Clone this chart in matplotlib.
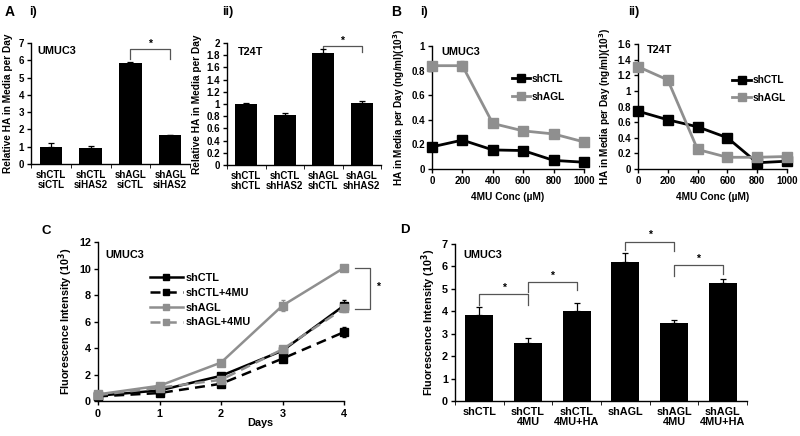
import numpy as np
import matplotlib
matplotlib.use("Agg")
import matplotlib.pyplot as plt
from matplotlib.ticker import FormatStrFormatter, MultipleLocator

plt.rcParams['font.family'] = ['Liberation Sans', 'DejaVu Sans']
plt.rcParams['font.weight'] = 'bold'
plt.rcParams['axes.labelweight'] = 'bold'
plt.rcParams['axes.linewidth'] = 1.0

GRAY = '#8f8f8f'

# ---- data ----
a1_labels = ['shCTL\nsiCTL', 'shCTL\nsiHAS2', 'shAGL\nsiCTL', 'shAGL\nsiHAS2']
a1_vals = [1.0, 0.93, 5.85, 1.65]
a1_err = [0.2, 0.12, 0.07, 0.04]

a2_labels = ['shCTL\nshCTL', 'shCTL\nshHAS2', 'shAGL\nshCTL', 'shAGL\nshHAS2']
a2_vals = [1.0, 0.82, 1.83, 1.02]
a2_err = [0.02, 0.03, 0.07, 0.03]

conc = [0, 200, 400, 600, 800, 1000]
b1_shctl = [0.18, 0.235, 0.155, 0.15, 0.07, 0.055]
b1_shagl = [0.84, 0.84, 0.37, 0.31, 0.285, 0.22]
b1_shctl_err = [0.01, 0.02, 0.01, 0.01, 0.01, 0.01]
b1_shagl_err = [0.02, 0.04, 0.02, 0.02, 0.01, 0.01]

b2_shctl = [0.74, 0.63, 0.54, 0.40, 0.08, 0.10]
b2_shagl = [1.31, 1.14, 0.25, 0.15, 0.15, 0.16]
b2_shctl_err = [0.03, 0.02, 0.02, 0.02, 0.01, 0.01]
b2_shagl_err = [0.03, 0.03, 0.02, 0.04, 0.02, 0.02]

days = [0, 1, 2, 3, 4]
c_shctl = [0.4, 0.8, 1.9, 3.8, 7.2]
c_shctl_4mu = [0.35, 0.6, 1.3, 3.2, 5.2]
c_shagl = [0.5, 1.15, 2.9, 7.2, 10.05]
c_shagl_4mu = [0.45, 1.0, 1.6, 3.9, 7.0]
c_shctl_err = [0.05, 0.1, 0.15, 0.2, 0.4]
c_shctl_4mu_err = [0.05, 0.1, 0.1, 0.2, 0.4]
c_shagl_err = [0.05, 0.1, 0.15, 0.4, 0.1]
c_shagl_4mu_err = [0.05, 0.1, 0.2, 0.2, 0.3]

d_labels = ['shCTL', 'shCTL\n4MU', 'shCTL\n4MU+HA', 'shAGL', 'shAGL\n4MU', 'shAGL\n4MU+HA']
d_vals = [3.85, 2.6, 4.0, 6.2, 3.5, 5.27]
d_err = [0.35, 0.22, 0.38, 0.4, 0.12, 0.18]

W, H = 800, 436
fig = plt.figure(figsize=(W / 100, H / 100), dpi=100)


def ax_px(l, t, r, b):
    ax = fig.add_axes([l / W, 1 - b / H, (r - l) / W, (b - t) / H])
    ax.spines['top'].set_visible(False)
    ax.spines['right'].set_visible(False)
    ax.tick_params(direction='out', length=3, width=1.0, pad=2)
    return ax


def label_px(x, y, s, size=8.5):
    fig.text(x / W, 1 - y / H, s, fontsize=size, fontweight='bold', va='center', ha='left')


def bracket(ax, x1, x2, y_left, y_top, y_right, star_y, fs=7.5):
    ax.plot([x1, x1, x2, x2], [y_left, y_top, y_top, y_right], color='#555555', lw=0.9, clip_on=False)
    ax.text((x1 + x2) / 2, star_y, '*', ha='center', va='center', fontsize=fs, clip_on=False)


def bar_panel(ax, labels, vals, err, ymax, ystep, fs):
    n = len(vals)
    x = np.arange(n) + 0.5
    ax.bar(x, vals, width=0.57, color='black', zorder=2)
    ax.errorbar(x, vals, yerr=[np.zeros(n), err], fmt='none', ecolor='black',
                elinewidth=0.9, capsize=2.5, capthick=0.9, zorder=3)
    ax.set_xlim(0, n)
    ax.set_ylim(0, ymax)
    ax.yaxis.set_major_locator(MultipleLocator(ystep))
    ax.yaxis.set_major_formatter(FormatStrFormatter('%g'))
    ax.set_xticks(x)
    ax.set_xticklabels(labels, fontsize=fs, linespacing=1.05)
    ax.tick_params(axis='x', length=0, pad=4)
    ax.set_xticks(np.arange(n + 1), minor=True)
    ax.tick_params(axis='x', which='minor', length=3, direction='out')
    ax.tick_params(axis='y', labelsize=fs)


# ---- A i ----
ax = ax_px(31, 43, 190, 164)
bar_panel(ax, a1_labels, a1_vals, a1_err, 7, 1, 7)
ax.set_ylabel('Relative HA in Media per Day', fontsize=7.3, labelpad=4)
ax.text(0.04, 0.93, 'UMUC3', transform=ax.transAxes, fontsize=7.8, fontweight='bold', va='center')
bracket(ax, 2.5, 3.5, 6.1, 6.65, 6.05, 6.95)

# ---- A ii ----
ax = ax_px(227, 43, 381, 165)
bar_panel(ax, a2_labels, a2_vals, a2_err, 2, 0.2, 7)
ax.set_ylabel('Relative HA in Media per Day', fontsize=7.3, labelpad=3)
ax.text(0.07, 0.93, 'T24T', transform=ax.transAxes, fontsize=7.8, fontweight='bold', va='center')
bracket(ax, 2.5, 3.5, 1.88, 1.95, 1.85, 2.04)


def line_panel(ax, ymax, ystep, ctl, agl, ctl_err, agl_err, fs):
    for vals, err, col, lab in [(ctl, ctl_err, 'black', 'shCTL'), (agl, agl_err, GRAY, 'shAGL')]:
        ax.errorbar(conc, vals, yerr=err, fmt='none', ecolor=col, elinewidth=0.8,
                    capsize=1.5, zorder=2, clip_on=False)
        ax.plot(conc, vals, color=col, lw=2.0, marker='s', ms=6.5, label=lab,
                zorder=3, clip_on=False)
    ax.set_xlim(0, 1000)
    ax.set_ylim(0, ymax)
    ax.set_xticks(conc)
    ax.yaxis.set_major_locator(MultipleLocator(ystep))
    ax.yaxis.set_major_formatter(FormatStrFormatter('%g'))
    ax.tick_params(labelsize=fs)
    ax.set_xlabel('4MU Conc (µM)', fontsize=7.3, labelpad=4)
    ax.set_ylabel('HA in Media per Day (ng/ml)(10$^\\mathbf{3}$)', fontsize=7.2, labelpad=3)


# ---- B i ----
ax = ax_px(432, 46, 584, 169)
line_panel(ax, 1, 0.2, b1_shctl, b1_shagl, b1_shctl_err, b1_shagl_err, 7)
ax.text(0.06, 0.95, 'UMUC3', transform=ax.transAxes, fontsize=7.8, fontweight='bold', va='center')
ax.legend(loc='center left', bbox_to_anchor=(0.49, 0.66), frameon=False, fontsize=7.3,
          handlelength=1.8, handletextpad=0.15, labelspacing=0.75, borderpad=0, markerscale=0.85)

# ---- B ii ----
ax = ax_px(638, 44, 787, 169)
line_panel(ax, 1.6, 0.2, b2_shctl, b2_shagl, b2_shctl_err, b2_shagl_err, 7)
ax.text(0.06, 0.95, 'T24T', transform=ax.transAxes, fontsize=7.8, fontweight='bold', va='center')
ax.legend(loc='center left', bbox_to_anchor=(0.6, 0.64), frameon=False, fontsize=7.3,
          handlelength=1.8, handletextpad=0.15, labelspacing=0.75, borderpad=0, markerscale=0.85)

# ---- C ----
ax = ax_px(98, 242, 344, 401)
series = [
    (c_shctl, c_shctl_err, 'black', '-', 'shCTL'),
    (c_shctl_4mu, c_shctl_4mu_err, 'black', (0, (4, 2.5)), 'shCTL+4MU'),
    (c_shagl, c_shagl_err, GRAY, '-', 'shAGL'),
    (c_shagl_4mu, c_shagl_4mu_err, GRAY, (0, (4, 2.5)), 'shAGL+4MU'),
]
for vals, err, col, ls, lab in series:
    ax.errorbar(days, vals, yerr=err, fmt='none', ecolor=col, elinewidth=0.8,
                capsize=1.5, zorder=2, clip_on=False)
    ax.plot(days, vals, color=col, ls=ls, lw=1.8, marker='s', ms=5.5, label=lab,
            zorder=3, clip_on=False)
ax.set_xlim(0, 4)
ax.set_ylim(0, 12)
ax.set_xticks(days)
ax.yaxis.set_major_locator(MultipleLocator(2))
ax.tick_params(labelsize=7.8)
ax.tick_params(axis='x', pad=3)
ax.set_ylabel('Fluorescence Intensity (10$^\\mathbf{3}$)', fontsize=7.8, labelpad=3)
ax.set_xlabel('Days', fontsize=7.8)
ax.xaxis.set_label_coords(0.66, -0.11)
ax.text(0.03, 0.92, 'UMUC3', transform=ax.transAxes, fontsize=7.8, fontweight='bold', va='center')
ax.legend(loc='upper left', bbox_to_anchor=(0.19, 0.84), frameon=False, fontsize=7.8,
          handlelength=3.0, handletextpad=0.3, labelspacing=0.45, borderpad=0, markerscale=0.9)
ax.plot([4.18, 4.42, 4.42, 4.18], [10.05, 10.05, 6.95, 6.95], color='#555555', lw=0.9, clip_on=False)
ax.text(4.55, 8.6, '*', ha='center', va='center', fontsize=7.5, clip_on=False)

# ---- D ----
ax = ax_px(455, 244, 747, 401)
bar_panel(ax, d_labels, d_vals, d_err, 7, 1, 7.8)
ax.set_ylabel('Fluorescence Intensity (10$^\\mathbf{3}$)', fontsize=7.8, labelpad=3)
ax.text(0.03, 0.93, 'UMUC3', transform=ax.transAxes, fontsize=7.8, fontweight='bold', va='center')
bracket(ax, 0.5, 1.5, 4.28, 4.77, 4.3, 5.05)
bracket(ax, 1.5, 2.5, 4.86, 5.32, 4.95, 5.6)
bracket(ax, 3.5, 4.5, 6.73, 7.1, 6.7, 7.4)
bracket(ax, 4.5, 5.5, 5.57, 6.06, 5.66, 6.35)

# ---- panel letters ----
label_px(5, 12, 'A', 10)
label_px(29, 12, 'i)', 9)
label_px(222, 12, 'ii)', 9)
label_px(391, 12, 'B', 10)
label_px(420, 12, 'i)', 9)
label_px(628, 12, 'ii)', 9)
label_px(42, 231, 'C', 9.5)
label_px(400, 230, 'D', 9.5)

fig.savefig('out.png', dpi=100)
